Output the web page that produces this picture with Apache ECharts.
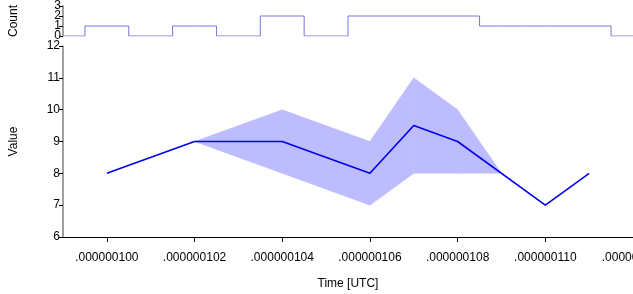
<!DOCTYPE html>
<html>
<head>
<meta charset="utf-8">
<script src="https://cdn.jsdelivr.net/npm/echarts@6/dist/echarts.min.js"></script>
<style>
  html, body { margin: 0; padding: 0; background: #fff; }
  #chart { width: 633px; height: 294px; }
</style>
</head>
<body>
<div id="chart"></div>
<script>
// time values (ns) for the main line
var times = [100, 102, 104, 106, 107, 108, 110, 111];
var values = [8, 9, 9, 8, 9.5, 9, 7, 8];

// min / max band
var bandTimes = [102, 104, 106, 107, 108, 109];
var bandLow = [9, 8, 7, 8, 8, 8];
var bandHigh = [9, 10, 9, 11, 10, 8];

// count histogram (one bin per ns)
var countTimes = [99, 100, 101, 102, 103, 104, 105, 106, 107, 108, 109, 110, 111, 112];
var counts = [0, 1, 0, 1, 0, 2, 0, 2, 2, 2, 1, 1, 1, 0];

var tickValues = [100, 102, 104, 106, 108, 110, 112];
var tickLabels = ['.000000100', '.000000102', '.000000104', '.000000106', '.000000108', '.000000110', '.000000112'];
// count ticks split over two overlaid axes so the tight labels are not dropped
var countTicksEven = [0, 2];
var countTicksOdd = [1, 3];

function zip(xs, ys) {
    return xs.map(function (x, i) { return [x, ys[i]]; });
}

// one quad per band segment: [x0, lo0, hi0, x1, lo1, hi1]
var bandSegs = [];
for (var i = 0; i < bandTimes.length - 1; i++) {
    bandSegs.push([bandTimes[i], bandLow[i], bandHigh[i], bandTimes[i + 1], bandLow[i + 1], bandHigh[i + 1]]);
}

var font = 'Liberation Sans';
var chart = echarts.init(document.getElementById('chart'));

function countAxis(ticks, main) {
    return {
        gridIndex: 0, type: 'value', min: 0, max: 3, position: 'left',
        name: main ? 'Count' : '', nameLocation: 'middle', nameGap: 43, nameRotate: 90,
        nameTextStyle: { color: '#000', fontSize: 12, fontFamily: font },
        splitLine: { show: false },
        axisLine: { show: main, lineStyle: { color: '#808080', width: 1.5 } },
        axisTick: { show: true, customValues: ticks, length: 4, lineStyle: { color: '#000' } },
        axisLabel: {
            customValues: ticks, margin: 2, color: '#000', fontSize: 12, fontFamily: font,
            showMinLabel: true, showMaxLabel: true
        }
    };
}

chart.setOption({
    animation: false,
    textStyle: { fontFamily: font },
    grid: [
        { left: 63, right: 0, top: 6, height: 30, outerBoundsMode: 'none' },
        { left: 63, right: 0, top: 46, height: 191, outerBoundsMode: 'none' }
    ],
    xAxis: [
        {
            gridIndex: 0, type: 'value', min: 99, max: 112,
            show: false
        },
        {
            gridIndex: 1, type: 'value', min: 99, max: 112,
            name: 'Time [UTC]', nameLocation: 'middle', nameGap: 41,
            nameTextStyle: { color: '#000', fontSize: 12, fontFamily: font },
            splitLine: { show: false },
            axisLine: { lineStyle: { color: '#000', width: 1 } },
            axisTick: { customValues: tickValues, length: 5, lineStyle: { color: '#000' } },
            axisLabel: {
                customValues: tickValues, margin: 15, color: '#000', fontSize: 12, fontFamily: font,
                showMinLabel: true, showMaxLabel: true,
                formatter: function (v) { return tickLabels[tickValues.indexOf(v)]; }
            }
        }
    ],
    yAxis: [
        countAxis(countTicksEven, true),
        {
            gridIndex: 1, type: 'value', min: 6, max: 12, interval: 1,
            name: 'Value', nameLocation: 'middle', nameGap: 43, nameRotate: 90,
            nameTextStyle: { color: '#000', fontSize: 12, fontFamily: font },
            splitLine: { show: false },
            axisLine: { show: true, lineStyle: { color: '#808080', width: 1.5 } },
            axisTick: { show: true, length: 4, lineStyle: { color: '#000' } },
            axisLabel: {
                margin: 3, color: '#000', fontSize: 12, fontFamily: font,
                showMinLabel: true, showMaxLabel: true
            }
        },
        countAxis(countTicksOdd, false)
    ],
    series: [
        {
            type: 'line', xAxisIndex: 0, yAxisIndex: 0,
            data: zip(countTimes, counts), step: 'middle', symbol: 'none',
            lineStyle: { color: '#7777dd', width: 1 }
        },
        {
            type: 'custom', xAxisIndex: 1, yAxisIndex: 1,
            data: bandSegs,
            encode: { x: [0, 3], y: [1, 2, 4, 5] },
            renderItem: function (params, api) {
                var a = api.coord([api.value(0), api.value(1)]);
                var b = api.coord([api.value(0), api.value(2)]);
                var c = api.coord([api.value(3), api.value(5)]);
                var d = api.coord([api.value(3), api.value(4)]);
                return {
                    type: 'polygon',
                    shape: { points: [a, b, c, d] },
                    style: { fill: '#bcbcff', stroke: '#bcbcff', lineWidth: 0.5 }
                };
            },
            z: 1
        },
        {
            type: 'line', xAxisIndex: 1, yAxisIndex: 1,
            data: zip(times, values), symbol: 'none', z: 5,
            lineStyle: { color: '#0000ee', width: 1.6 }
        }
    ]
});
</script>
</body>
</html>
